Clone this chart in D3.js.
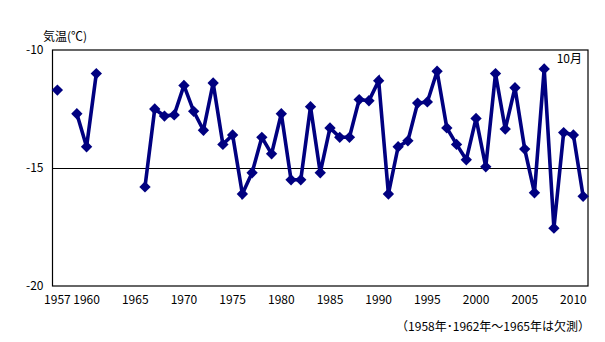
<!DOCTYPE html>
<html>
<head>
<meta charset="utf-8">
<script src="https://cdn.jsdelivr.net/npm/d3@7"></script>
<style>
  html, body { margin: 0; padding: 0; background: #fff; }
  svg { display: block; }
  text { font-family: "Noto Sans CJK JP", "DejaVu Sans", sans-serif; font-size: 12px; fill: #000; }
</style>
</head>
<body>
<svg id="chart" width="605" height="342"></svg>
<script>
// October mean air temperature (°C); null = not observed
const years = d3.range(1957, 2012);
const temps = [
  -11.7, null, -12.7, -14.1, -11.0, null, null, null, null, -15.8,
  -12.5, -12.8, -12.75, -11.5, -12.6, -13.4, -11.4, -14.0, -13.6, -16.1,
  -15.2, -13.7, -14.4, -12.7, -15.5, -15.5, -12.4, -15.2, -13.3, -13.7,
  -13.7, -12.1, -12.15, -11.3, -16.1, -14.1, -13.85, -12.25, -12.2, -10.9,
  -13.3, -14.0, -14.65, -12.9, -14.95, -11.0, -13.35, -11.6, -14.2, -16.05,
  -10.8, -17.55, -13.5, -13.6, -16.2
];
const xTickLabels = [1957, 1960, 1965, 1970, 1975, 1980, 1985, 1990, 1995, 2000, 2005, 2010];
const yTicks = [-20, -15, -10];
const data = years.map((y, i) => ({ year: y, value: temps[i] }));

const svg = d3.select("#chart");
const margin = { left: 52.5, right: 17, top: 50, bottom: 56 };
const W = 605, H = 342;

const x = d3.scaleBand()
  .domain(years)
  .range([margin.left, W - margin.right]);
const y = d3.scaleLinear()
  .domain([-20, -10])
  .range([H - margin.bottom, margin.top]);
const cx = d => x(d) + x.bandwidth() / 2;

// reference line at -15
svg.append("line")
  .attr("x1", margin.left).attr("x2", W - margin.right)
  .attr("y1", Math.round(y(-15)) + 0.5).attr("y2", Math.round(y(-15)) + 0.5)
  .attr("stroke", "#000").attr("stroke-width", 1);

// plot frame
svg.append("rect")
  .attr("x", margin.left).attr("y", margin.top)
  .attr("width", W - margin.right - margin.left)
  .attr("height", H - margin.bottom - margin.top)
  .attr("fill", "none").attr("stroke", "#000").attr("stroke-width", 1.2);

// y axis labels
const yAxis = d3.axisLeft(y).tickValues(yTicks).tickSize(0).tickPadding(9)
  .tickFormat(d => d3.format("d")(d).replace("−", "-"));
svg.append("g").attr("transform", `translate(${margin.left},0)`).call(yAxis)
  .call(g => g.select(".domain").remove())
  .call(g => g.selectAll("text").style("font-size", "12px"));

// x axis labels
const xAxis = d3.axisBottom(x).tickValues(xTickLabels).tickSize(0).tickPadding(9);
svg.append("g").attr("transform", `translate(0,${H - margin.bottom})`).call(xAxis)
  .call(g => g.select(".domain").remove())
  .call(g => g.selectAll("text").style("font-size", "12px"));

// series line with gaps for missing years
const line = d3.line()
  .defined(d => d.value !== null)
  .x(d => cx(d.year))
  .y(d => y(d.value));
svg.append("path")
  .datum(data)
  .attr("fill", "none")
  .attr("stroke", "#000080")
  .attr("stroke-width", 3.6)
  .attr("stroke-linejoin", "miter")
  .attr("d", line);

// diamond markers
const diamond = d3.symbol().type(d3.symbolDiamond2).size(82);
svg.append("g").selectAll("path")
  .data(data.filter(d => d.value !== null))
  .join("path")
  .attr("transform", d => `translate(${cx(d.year)},${y(d.value)})`)
  .attr("d", diamond)
  .attr("fill", "#000080");

// titles and notes
svg.append("text").attr("x", 43).attr("y", 41).text("気温(℃)");
svg.append("text").attr("x", 582).attr("y", 63).attr("text-anchor", "end").text("10月");
svg.append("text").attr("x", 590).attr("y", 331).attr("text-anchor", "end")
  .text("（1958年･1962年～1965年は欠測）");
</script>
</body>
</html>
